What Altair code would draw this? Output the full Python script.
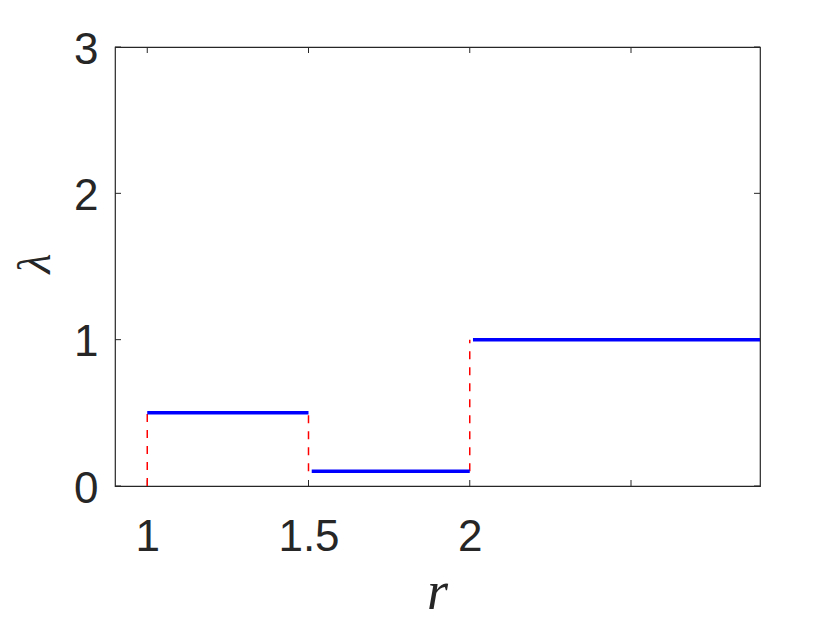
import altair as alt
import pandas as pd

# Blue step segments: r start, r end, lambda value
seg_r_start = [1.0, 1.51, 2.01]
seg_r_end = [1.5, 2.0, 2.9]
seg_lambda = [0.5, 0.1, 1.0]

# Red dashed jumps
jump_r = [1.0, 1.5, 2.0]
jump_low = [0.0, 0.1, 0.1]
jump_high = [0.5, 0.5, 1.0]

x_ticks = [1.0, 1.5, 2.0, 2.5]
x_labels = [1.0, 1.5, 2.0]
y_ticks = [0, 1, 2, 3]

segs = pd.DataFrame({"r0": seg_r_start, "r1": seg_r_end, "lam": seg_lambda})
jumps = pd.DataFrame({"r": jump_r, "lo": jump_low, "hi": jump_high})
xt = pd.DataFrame({"r": x_ticks})
yt = pd.DataFrame({"lam": y_ticks})

AX = "#262626"
xscale = alt.Scale(domain=[0.9, 2.9], nice=False, zero=False)
yscale = alt.Scale(domain=[0, 3], nice=False)

xaxis = alt.Axis(
    values=x_labels, format="~g", grid=False, ticks=False, tickSize=0, domain=False,
    labelFont="Liberation Sans", labelFontSize=44, labelColor=AX,
    labelBaseline="alphabetic", labelPadding=64, labelFlush=False,
    title="r", titleFont="Liberation Serif", titleFontStyle="italic",
    titleFontWeight="normal", titleFontSize=54, titleColor=AX,
    titleX=322, titleY=122, titleAlign="center", titleBaseline="alphabetic",
)
yaxis = alt.Axis(
    values=y_ticks, format="d", grid=False, ticks=False, tickSize=0, domain=False,
    labelFont="Liberation Sans", labelFontSize=44, labelColor=AX,
    labelPadding=17, labelFlush=False, labelBaseline="middle", labelOffset=3,
    title="λ", titleFont="Liberation Serif", titleFontStyle="italic",
    titleFontWeight="normal", titleFontSize=46, titleColor=AX,
    titleX=-80, titleY=216, titleAlign="center", titleBaseline="middle",
)

base_x = alt.X("r:Q", scale=xscale, axis=xaxis)

tick_bottom = alt.Chart(xt).mark_rule(color=AX, strokeWidth=1).encode(
    x=base_x, y=alt.value(439), y2=alt.value(433)
)
tick_top = alt.Chart(xt).mark_rule(color=AX, strokeWidth=1).encode(
    x=alt.X("r:Q", scale=xscale), y=alt.value(0), y2=alt.value(6)
)
tick_left = alt.Chart(yt).mark_rule(color=AX, strokeWidth=1).encode(
    y=alt.Y("lam:Q", scale=yscale, axis=yaxis), x=alt.value(0), x2=alt.value(6)
)
tick_right = alt.Chart(yt).mark_rule(color=AX, strokeWidth=1).encode(
    y=alt.Y("lam:Q", scale=yscale), x=alt.value(645), x2=alt.value(639)
)

red = alt.Chart(jumps).mark_rule(color="#FF0000", strokeWidth=1.5, strokeDash=[8, 8]).encode(
    x=alt.X("r:Q", scale=xscale),
    y=alt.Y("lo:Q", scale=yscale),
    y2="hi:Q",
)

blue = alt.Chart(segs).mark_rule(color="#0000FF", strokeWidth=3.5).encode(
    x=alt.X("r0:Q", scale=xscale),
    x2="r1:Q",
    y=alt.Y("lam:Q", scale=yscale),
)

chart = alt.layer(tick_bottom, tick_top, tick_left, tick_right, red, blue).properties(
    width=645, height=439,
    autosize=alt.AutoSizeParams(type="none"),
    padding={"left": 107, "top": 39, "right": 60, "bottom": 140},
).configure(background="white").configure_view(stroke=AX, strokeWidth=1.2)

chart.save("out.html", embed_options={"renderer": "svg", "actions": False})
